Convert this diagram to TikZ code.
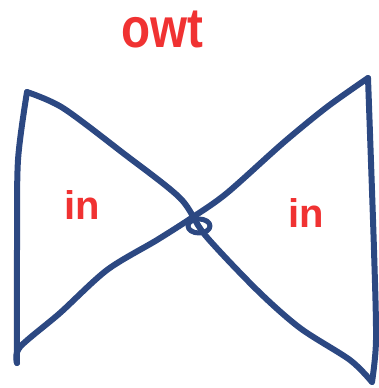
\documentclass[tikz,border=0pt]{standalone}
\usepackage{fontspec}
\setmainfont{Liberation Sans}
\definecolor{ink}{RGB}{44,72,130}
\definecolor{pen}{RGB}{240,50,50}
\tikzset{
  stroke/.style={draw=ink, line width=6pt, line cap=round, line join=round},
  label/.style={text=pen, inner sep=0pt, font=\bfseries\fontsize{40}{40}\selectfont},
}
\begin{document}
\begin{tikzpicture}[x=1pt,y=-1pt]
\useasboundingbox (0,0) rectangle (378,388);
% left edge
\draw[stroke] plot[smooth, tension=0.5] coordinates {(17,363) (17,250) (18,160) (27,92)};
% left-top to right-bottom diagonal
\draw[stroke] plot[smooth, tension=0.5] coordinates {(27,92) (63,108) (123,153) (180,198) (205,235) (257,290) (300,328) (350,360) (372,382)};
% right edge
\draw[stroke] plot[smooth, tension=0.5] coordinates {(372,382) (376,340) (374,250) (368,78)};
% right-top to left-bottom diagonal
\draw[stroke] plot[smooth, tension=0.5] coordinates {(368,78) (327,107) (283,143) (227,193) (193,217) (157,240) (107,270) (60,313) (20,347) (17,363)};
% small loop at the crossing
\draw[stroke, line width=5pt] (199,226) ellipse [x radius=11, y radius=7];
% texts
\node[label, font=\bfseries\fontsize{56}{56}\selectfont, xscale=0.85] (owt) at (162,30) {owt};
\node[label] (inL) at (82,205) {in};
\node[label] (inR) at (306,213) {in};
\end{tikzpicture}
\end{document}
